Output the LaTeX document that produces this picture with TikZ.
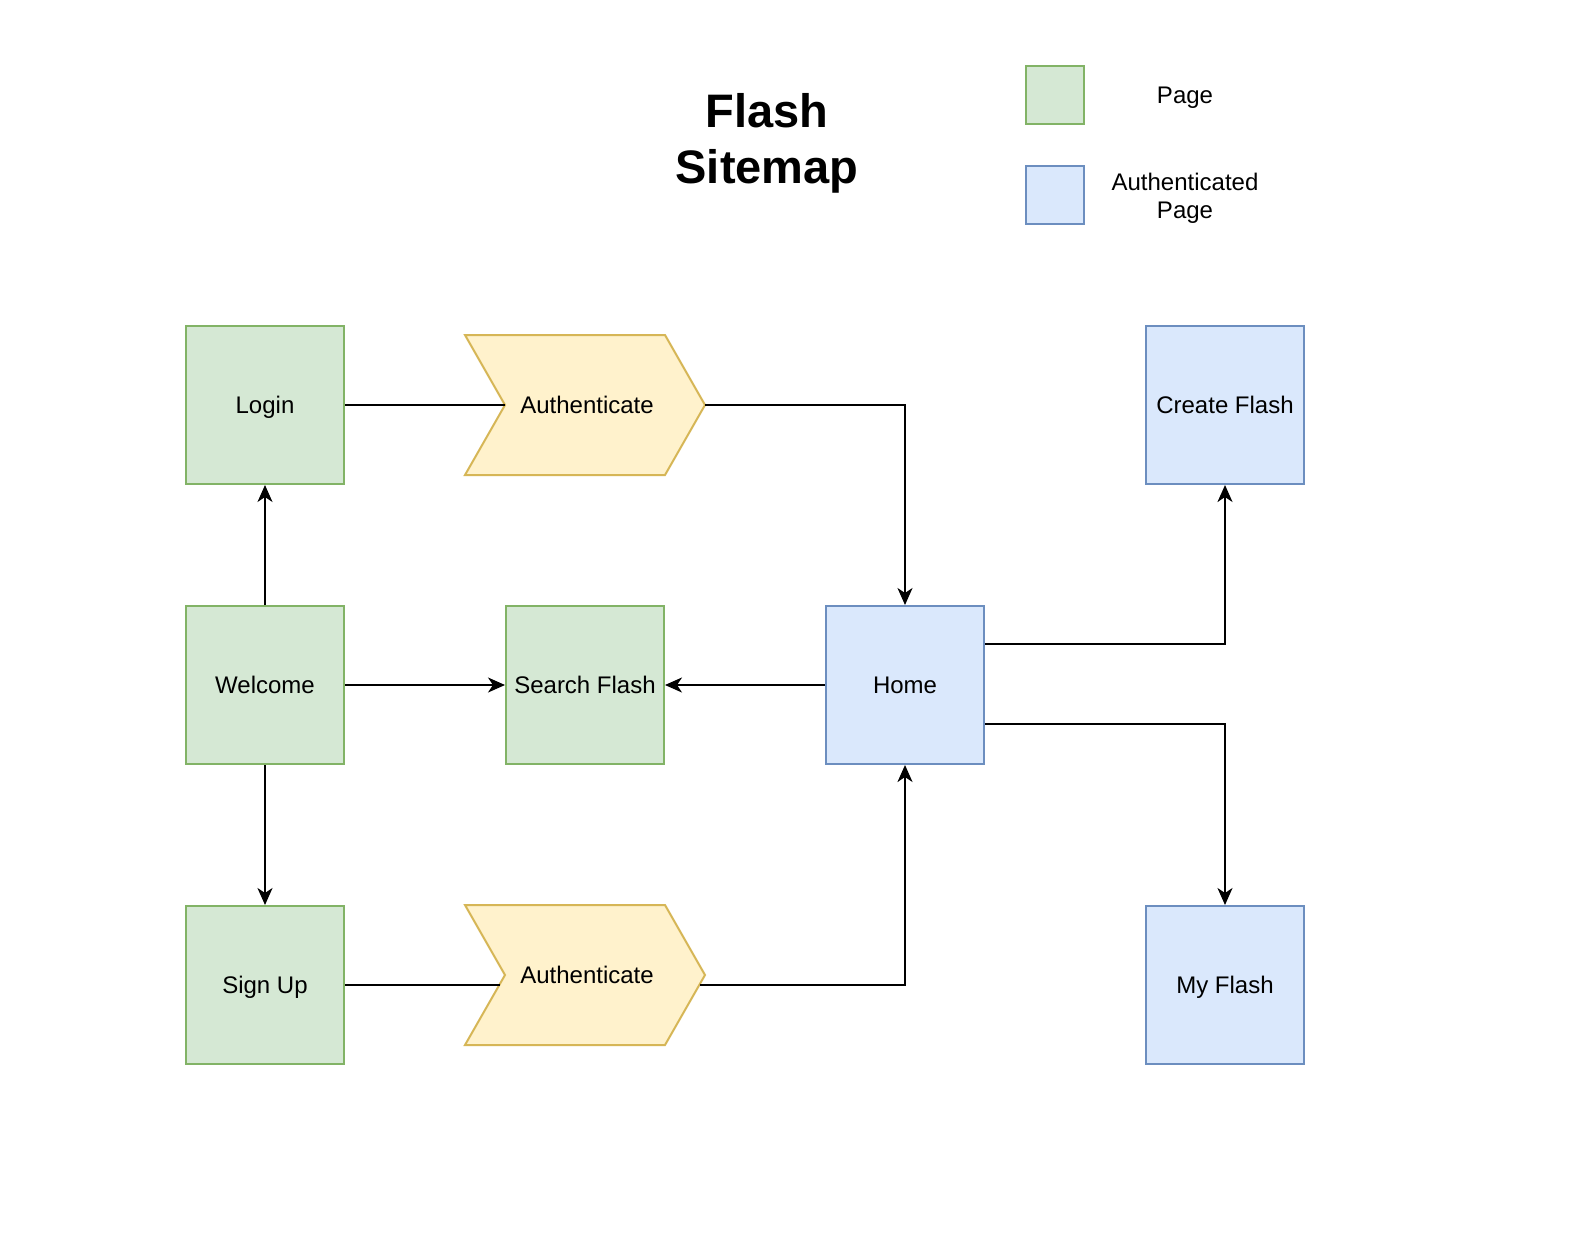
\documentclass[tikz,border=0pt]{standalone}
\usepackage{fontspec}
\setmainfont{Liberation Sans}
\usetikzlibrary{arrows.meta}
\definecolor{pgfill}{HTML}{D5E8D4}
\definecolor{pgline}{HTML}{82B366}
\definecolor{apfill}{HTML}{DAE8FC}
\definecolor{apline}{HTML}{6C8EBF}
\definecolor{chfill}{HTML}{FFF2CC}
\definecolor{chline}{HTML}{D6B656}
\tikzset{
  boxfont/.style={font=\fontsize{24}{28.8}\selectfont, text height=17.2pt, text depth=0pt},
  pagebox/.style={draw=pgline, fill=pgfill, line width=2pt, minimum width=158pt, minimum height=158pt, inner sep=0pt, boxfont},
  authbox/.style={draw=apline, fill=apfill, line width=2pt, minimum width=158pt, minimum height=158pt, inner sep=0pt, boxfont},
  chevron/.style={draw=chline, fill=chfill, line width=2pt, line join=miter},
  lbl/.style={boxfont, inner sep=0pt},
  leglbl/.style={font=\fontsize{24}{28}\selectfont, align=center, inner sep=0pt},
  conn/.style={line width=2pt},
  arr/.style={line width=2pt, -{Stealth[length=17pt,width=15pt,inset=5pt]}}
}
\begin{document}
\begin{tikzpicture}[x=1pt,y=-1pt]
\useasboundingbox (0,0) rectangle (1586,1240);
\fill[white] (0,0) rectangle (1586,1240);

% title
\node[align=center, font=\bfseries\fontsize{47}{56}\selectfont, inner sep=0pt, anchor=base] (title) at (767,183) {Flash\\Sitemap};

% legend
\node[pagebox, minimum width=58pt, minimum height=58pt] (legpage) at (1055,95) {};
\node[authbox, minimum width=58pt, minimum height=58pt] (legauth) at (1055,195) {};
\node[leglbl, anchor=base] (legpagetxt) at (1185,103) {Page};
\node[leglbl, anchor=base] (legauthtxt) at (1185,218) {Authenticated\\Page};

% pages
\node[pagebox] (login) at (265,405) {Login};
\node[pagebox] (welcome) at (265,685) {Welcome};
\node[pagebox] (signup) at (265,985) {Sign Up};
\node[pagebox] (search) at (585,685) {Search Flash};
\node[authbox] (home) at (905,685) {Home};
\node[authbox] (create) at (1225,405) {Create Flash};
\node[authbox] (myflash) at (1225,985) {My Flash};

% chevrons
\draw[chevron] (465,335) -- (665,335) -- (705,405) -- (665,475) -- (465,475) -- (505,405) -- cycle;
\node[lbl] (auth1) at (587,405) {Authenticate};
\coordinate (a1in) at (505,405);
\coordinate (a1out) at (705,405);

\draw[chevron] (465,905) -- (665,905) -- (705,975) -- (665,1045) -- (465,1045) -- (505,975) -- cycle;
\node[lbl] (auth2) at (587,975) {Authenticate};
\coordinate (a2in) at (499.5,985);
\coordinate (a2out) at (699.5,985);

\coordinate (hc) at (985,644);
\coordinate (hm) at (985,724);

% connectors
\draw[conn] (login.east) -- (a1in);
\draw[arr] (a1out) -| (home.north);
\draw[arr] (welcome.north) -- (login.south);
\draw[arr] (welcome.south) -- (signup.north);
\draw[arr] (welcome.east) -- (search.west);
\draw[arr] (home.west) -- (search.east);
\draw[conn] (signup.east) -- (a2in);
\draw[arr] (a2out) -| (home.south);
\draw[arr] (hc) -| (create.south);
\draw[arr] (hm) -| (myflash.north);
\end{tikzpicture}
\end{document}
